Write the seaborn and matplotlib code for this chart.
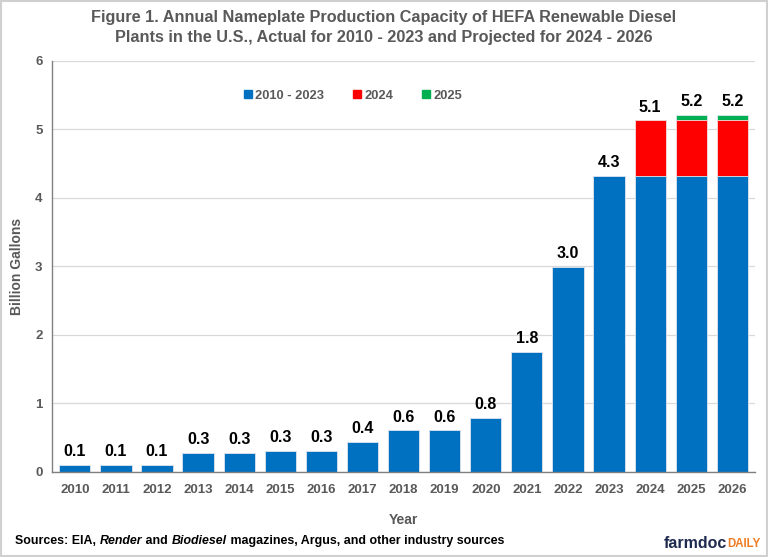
import matplotlib
matplotlib.use("Agg")
import matplotlib.pyplot as plt
from matplotlib.patches import Patch, Rectangle
import pandas as pd
import seaborn as sns

years = ['2010', '2011', '2012', '2013', '2014', '2015', '2016', '2017', '2018',
         '2019', '2020', '2021', '2022', '2023', '2024', '2025', '2026']
actual = [0.10, 0.10, 0.10, 0.28, 0.28, 0.31, 0.31, 0.44, 0.61,
          0.61, 0.79, 1.75, 2.99, 4.32, 4.32, 4.32, 4.32]
add_2024 = [0, 0, 0, 0, 0, 0, 0, 0, 0, 0, 0, 0, 0, 0, 0.81, 0.81, 0.81]
add_2025 = [0, 0, 0, 0, 0, 0, 0, 0, 0, 0, 0, 0, 0, 0, 0, 0.08, 0.08]
totals = ['0.1', '0.1', '0.1', '0.3', '0.3', '0.3', '0.3', '0.4', '0.6',
          '0.6', '0.8', '1.8', '3.0', '4.3', '5.1', '5.2', '5.2']

sns.set_style("white")
plt.rcParams['font.family'] = ['Liberation Sans', 'DejaVu Sans']

gray = '#595959'
blue, red, green = '#0070C0', '#FF0000', '#00B050'

df = pd.DataFrame({'year': years, 'a': actual, 'b': add_2024, 'c': add_2025})
df['ab'] = df['a'] + df['b']
df['abc'] = df['ab'] + df['c']

fig = plt.figure(figsize=(7.68, 5.57), dpi=100)
ax = fig.add_axes([0.068, 0.153, 0.915, 0.738])

# stacked bars: draw cumulative totals back to front
w = 0.76
sns.barplot(data=df, x='year', y='abc', color=green, width=w, saturation=1,
            edgecolor='#dfe9f3', linewidth=0.6, ax=ax)
sns.barplot(data=df, x='year', y='ab', color=red, width=w, saturation=1,
            edgecolor='#f7dede', linewidth=0.6, ax=ax)
sns.barplot(data=df, x='year', y='a', color=blue, width=w, saturation=1,
            edgecolor='#dfe9f3', linewidth=0.6, ax=ax)

for i, (v, t) in enumerate(zip(df['abc'], totals)):
    ax.text(i, v + 0.08, t, ha='center', va='bottom', fontsize=11.5,
            fontweight='bold', color='black')

ax.set_ylim(0, 6)
ax.set_xlim(-0.55, len(years) - 0.45)
ax.set_yticks(range(0, 7))
ax.yaxis.grid(True, color='#d9d9d9', linewidth=0.9)
ax.set_axisbelow(True)
for s in ['top', 'right']:
    ax.spines[s].set_visible(False)
for s in ['left', 'bottom']:
    ax.spines[s].set_color('#808080')
    ax.spines[s].set_linewidth(1)
ax.tick_params(axis='both', length=0, labelsize=9.5, labelcolor=gray)
ax.tick_params(axis='x', pad=9)
ax.tick_params(axis='y', pad=7)
for lab in ax.get_xticklabels() + ax.get_yticklabels():
    lab.set_fontweight('bold')
ax.set_xlabel('Year', fontsize=10, fontweight='bold', color=gray, labelpad=12)
ax.set_ylabel('Billion Gallons', fontsize=10, fontweight='bold', color=gray, labelpad=8)

handles = [Patch(color=blue), Patch(color=red), Patch(color=green)]
leg = ax.legend(handles, ['2010 - 2023', '2024', '2025'], loc='center',
                bbox_to_anchor=(0.428, 0.915), ncol=3, frameon=False,
                handlelength=0.6, handleheight=0.6, handletextpad=0.3,
                columnspacing=2.2, prop={'weight': 'bold', 'size': 9.3})
for t in leg.get_texts():
    t.set_color(gray)

fig.text(0.5, 0.95, 'Figure 1. Annual Nameplate Production Capacity of HEFA Renewable Diesel\n'
         'Plants in the U.S., Actual for 2010 - 2023 and Projected for 2024 - 2026',
         ha='center', va='center', fontsize=11.7, fontweight='bold', color=gray,
         linespacing=1.4)

# sources line built piecewise to allow italics
x0 = 0.02
r = fig.canvas.get_renderer()
parts = [('Sources: EIA, ', 'normal'), ('Render', 'italic'), (' and ', 'normal'),
         ('Biodiesel', 'italic'), (' magazines, Argus, and other industry sources', 'normal')]
for txt, style in parts:
    t = fig.text(x0, 0.028, txt, fontsize=8.9, fontweight='bold', fontstyle=style,
                 color='black', va='center')
    bb = t.get_window_extent(renderer=r)
    x0 += bb.width / fig.bbox.width

fig.text(0.947, 0.025, 'farmdoc', fontsize=11.5, fontweight='bold', color='#1f2a4f',
         va='center', ha='right')
fig.text(0.947, 0.023, 'DAILY', fontsize=8.3, fontweight='bold', color='#f07c22',
         va='center', ha='left')

fig.add_artist(Rectangle((0.001, 0.001), 0.998, 0.998, transform=fig.transFigure,
                         fill=False, edgecolor='#d0d0d0', linewidth=1.5))

fig.savefig('out.png', dpi=100)
